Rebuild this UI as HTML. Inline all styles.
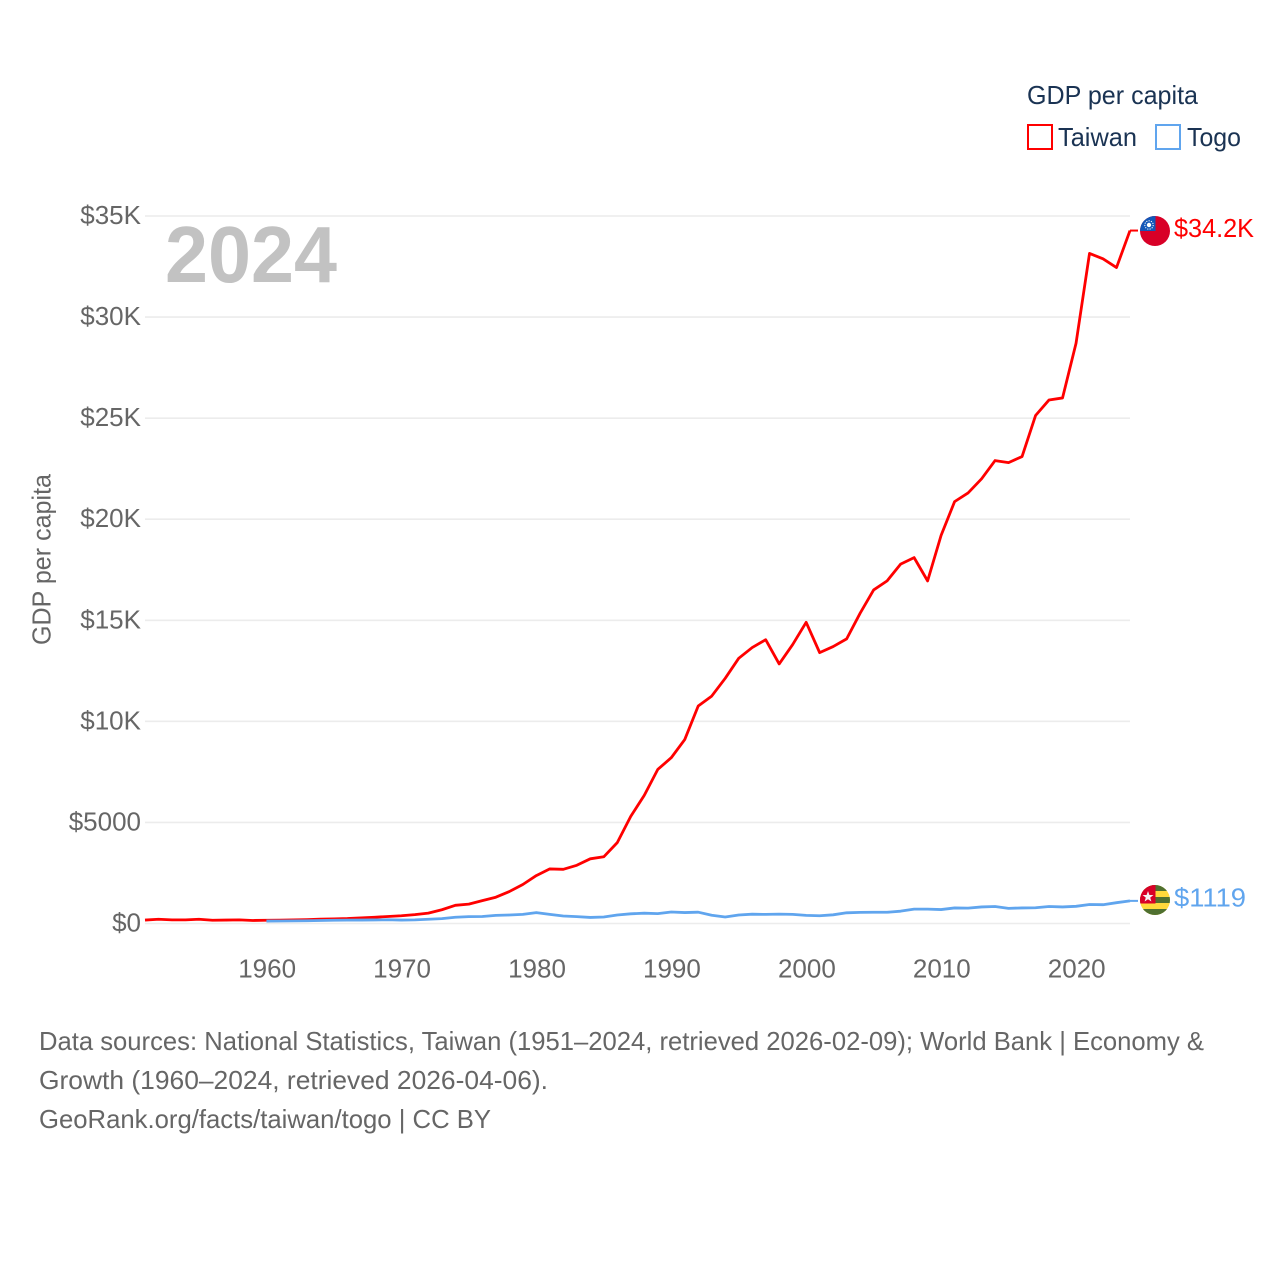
<!DOCTYPE html>
<html lang="en">
<head>
<meta charset="utf-8">
<title>GDP per capita: Taiwan and Togo</title>
<style>
html,body{margin:0;padding:0;background:#fff;width:1280px;height:1280px;overflow:hidden}
svg{display:block}
text{font-family:"Liberation Sans",sans-serif}
</style>
</head>
<body>
<svg id="chart" width="1280" height="1280" viewBox="0 0 1280 1280" xmlns="http://www.w3.org/2000/svg">
  <rect width="1280" height="1280" fill="#fff"/>
  <g id="grid"></g>
  <g id="y-ticks"></g>
  <g id="x-ticks"></g>
  <text x="165" y="282" font-size="80" font-weight="700" fill="#c2c2c2" textLength="172" lengthAdjust="spacingAndGlyphs">2024</text>
  <text transform="translate(50.5,645) rotate(-90)" font-size="26" fill="#666" textLength="171" lengthAdjust="spacingAndGlyphs">GDP per capita</text>
  <path id="line-taiwan" fill="none" stroke="#ff0000" stroke-width="2.8" stroke-linejoin="round"/>
  <path id="line-togo" fill="none" stroke="#60a5ee" stroke-width="2.8" stroke-linejoin="round"/>
  <path id="connector-taiwan" fill="none" stroke="#ff0000" stroke-width="2"/>
  <path id="connector-togo" fill="none" stroke="#60a5ee" stroke-width="2"/>

  <defs>
    <clipPath id="clip-tw"><circle cx="1155" cy="231" r="15"/></clipPath>
    <clipPath id="clip-tg"><circle cx="1155" cy="900" r="15"/></clipPath>
  </defs>
  <g clip-path="url(#clip-tw)">
    <rect x="1140" y="216" width="30" height="30" fill="#d80027"/>
    <rect x="1140" y="216" width="15.5" height="15" fill="#1257b8"/>
    <circle cx="1149" cy="225" r="2.2" fill="#fff"/>
    <circle cx="1149" cy="225" r="4.2" fill="none" stroke="#fff" stroke-width="1" stroke-dasharray="1.2 1.2"/>
  </g>
  <g clip-path="url(#clip-tg)">
    <rect x="1140" y="885" width="30" height="30" fill="#ffd93b"/>
    <rect x="1140" y="885" width="30" height="6" fill="#4f7030"/>
    <rect x="1140" y="897" width="30" height="6" fill="#4f7030"/>
    <rect x="1140" y="909" width="30" height="6" fill="#4f7030"/>
    <rect x="1140" y="885" width="15.5" height="18.5" fill="#d80027"/>
    <polygon points="1148,891 1149.4,895 1153.5,895 1150.2,897.6 1151.4,901.5 1148,899.2 1144.6,901.5 1145.8,897.6 1142.5,895 1146.6,895" fill="#f4f4f4"/>
  </g>

  <text x="1174" y="237" font-size="26" fill="#ff0000" textLength="80" lengthAdjust="spacingAndGlyphs">$34.2K</text>
  <text x="1174" y="906.5" font-size="26" fill="#60a5ee" textLength="72" lengthAdjust="spacingAndGlyphs">$1119</text>

  <g>
    <text x="1027" y="104" font-size="26" fill="#1a3353" textLength="171" lengthAdjust="spacingAndGlyphs">GDP per capita</text>
    <g>
      <rect x="1028" y="125" width="24" height="24" fill="#fff" stroke="#ff0000" stroke-width="2"/>
      <text x="1058" y="146" font-size="26" fill="#1a3353" textLength="79" lengthAdjust="spacingAndGlyphs">Taiwan</text>
    </g>
    <g>
      <rect x="1156" y="125" width="24" height="24" fill="#fff" stroke="#60a5ee" stroke-width="2"/>
      <text x="1187" y="146" font-size="26" fill="#1a3353" textLength="54" lengthAdjust="spacingAndGlyphs">Togo</text>
    </g>
  </g>

  <g font-size="26" fill="#666">
    <text x="39" y="1050" textLength="1165" lengthAdjust="spacingAndGlyphs">Data sources: National Statistics, Taiwan (1951–2024, retrieved 2026-02-09); World Bank | Economy &amp;</text>
    <text x="39" y="1089" textLength="509" lengthAdjust="spacingAndGlyphs">Growth (1960–2024, retrieved 2026-04-06).</text>
    <text x="39" y="1128" textLength="452" lengthAdjust="spacingAndGlyphs">GeoRank.org/facts/taiwan/togo | CC BY</text>
  </g>
</svg>
<script>
const taiwanStartYear = 1951;
const togoStartYear = 1960;
const taiwanValues = [170,210,180,180,210,160,170,180,150,160,165,175,190,215,225,245,280,310,345,385,440,515,680,900,960,1130,1300,1580,1930,2370,2700,2680,2880,3200,3300,4000,5300,6340,7620,8200,9100,10760,11250,12130,13120,13650,14040,12840,13800,14900,13400,13700,14080,15350,16500,16950,17780,18100,16950,19200,20870,21300,22000,22900,22800,23100,25130,25900,26000,28700,33150,32880,32450,34280];
const togoValues = [120,125,130,135,150,160,165,170,175,185,170,180,210,240,310,340,345,400,420,450,540,450,370,340,300,320,420,480,510,490,570,540,560,410,320,420,460,450,465,450,400,385,430,530,550,555,555,610,710,710,690,770,760,820,840,750,770,780,840,820,850,940,930,1030,1119];
const yTickValues = [0,5000,10000,15000,20000,25000,30000,35000];
const yTickLabels = ["$0","$5000","$10K","$15K","$20K","$25K","$30K","$35K"];
const xTickValues = [1960,1970,1980,1990,2000,2010,2020];

const NS = "http://www.w3.org/2000/svg";
function xScale(year){ return 145 + (year - 1951) * (985 / 73); }
function yScale(v){ return 923.5 - v * (707.5 / 35000); }
function linePath(values, startYear){
  return values.map(function(v,i){
    return (i ? "L" : "M") + xScale(startYear + i).toFixed(2) + " " + yScale(v).toFixed(2);
  }).join(" ");
}

const gridG = document.getElementById("grid");
const yG = document.getElementById("y-ticks");
const xG = document.getElementById("x-ticks");

yTickValues.forEach(function(v,i){
  const ln = document.createElementNS(NS,"line");
  
  
  ln.setAttribute("x1",145);
  ln.setAttribute("x2",1130);
  ln.setAttribute("y1",yScale(v));
  ln.setAttribute("y2",yScale(v));
  ln.setAttribute("stroke","#ececec");
  ln.setAttribute("stroke-width","1.6");
  gridG.appendChild(ln);

  const t = document.createElementNS(NS,"text");
  
  
  t.setAttribute("x",141);
  t.setAttribute("y",yScale(v)+8);
  t.setAttribute("text-anchor","end");
  t.setAttribute("font-size","26");
  t.setAttribute("fill","#666");
  t.textContent = yTickLabels[i];
  yG.appendChild(t);
});

xTickValues.forEach(function(year){
  const t = document.createElementNS(NS,"text");
  
  
  t.setAttribute("x",xScale(year)+0.7);
  t.setAttribute("y",977.5);
  t.setAttribute("text-anchor","middle");
  t.setAttribute("font-size","26");
  t.setAttribute("fill","#666");
  t.textContent = String(year);
  xG.appendChild(t);
});

document.getElementById("line-taiwan").setAttribute("d", linePath(taiwanValues, taiwanStartYear));
document.getElementById("line-togo").setAttribute("d", linePath(togoValues, togoStartYear));

const lastTw = taiwanValues[taiwanValues.length-1];
const lastTg = togoValues[togoValues.length-1];
document.getElementById("connector-taiwan").setAttribute("d","M"+xScale(2024)+" "+yScale(lastTw)+" H1138");
document.getElementById("connector-togo").setAttribute("d","M"+xScale(2024)+" "+yScale(lastTg)+" H1138");
</script>
</body>
</html>
